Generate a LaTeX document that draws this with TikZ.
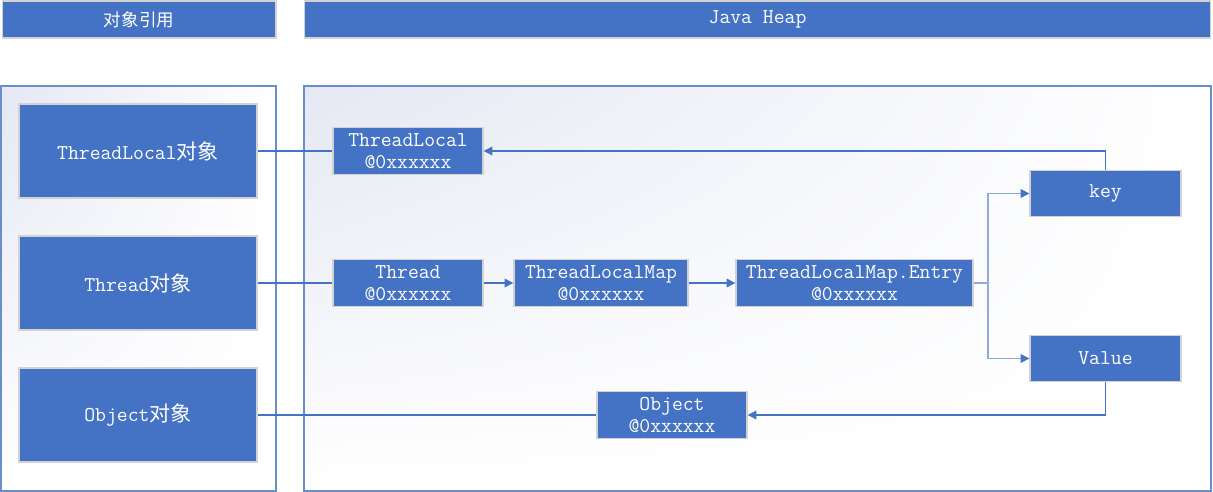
\documentclass[tikz,border=0pt]{standalone}
\usepackage{fontspec}
\newfontfamily\cjk{Noto Sans CJK SC}
\usetikzlibrary{arrows.meta,shadings}

\definecolor{boxblue}{HTML}{4472C4}
\definecolor{forkblue}{HTML}{8FAADC}
\definecolor{panelshade}{HTML}{E5E8F3}

\begin{document}
\begin{tikzpicture}[
    x=0.02cm, y=-0.02cm,
    head/.style={
        fill=boxblue,
        draw=gray!35,
        line width=0.6pt,
        minimum height=0.74cm,
        text=white,
        font=\cjk\fontsize{10}{12}\selectfont
    },
    box/.style={
        fill=boxblue,
        draw=gray!35,
        line width=0.8pt,
        minimum width=3cm,
        minimum height=0.93cm,
        inner sep=1pt,
        align=center,
        text=white,
        font=\ttfamily\fontsize{12}{12.5}\selectfont
    },
    bigbox/.style={
        box,
        minimum width=4.76cm,
        minimum height=1.88cm
    },
    panel/.style={
        draw=boxblue!80,
        line width=0.6pt,
        upper left=panelshade,
        upper right=white,
        lower left=white,
        lower right=white
    },
    link/.style={draw=boxblue, line width=0.6pt},
    arrow/.style={link, -{Triangle[length=5pt,width=5pt]}},
    fork/.style={draw=forkblue, line width=0.9pt,
        -{Triangle[length=5pt,width=5pt,color=boxblue]}}
]
    \useasboundingbox (0,0) rectangle (1213,492);

    % headers
    \node[head, minimum width=5.48cm] (hdrref) at (139,19.5) {对象引用};
    \node[head, minimum width=18.14cm, font=\ttfamily\fontsize{12}{12}\selectfont]
        (hdrheap) at (757.5,19.5) {Java Heap};

    % panels
    \shade[panel] (1,86) rectangle (276,491);
    \shade[panel] (304,86) rectangle (1211,491);

    % references
    \node[bigbox] (tlref) at (138,151) {ThreadLocal{\cjk 对象}};
    \node[bigbox] (thref) at (138,283) {Thread{\cjk 对象}};
    \node[bigbox] (objref) at (138,415) {Object{\cjk 对象}};

    % heap objects
    \node[box] (tl) at (408,151) {ThreadLocal\\@0xxxxxx};
    \node[box] (th) at (408,283) {Thread\\@0xxxxxx};
    \node[box, minimum width=3.48cm] (map) at (601,283) {ThreadLocalMap\\@0xxxxxx};
    \node[box, minimum width=4.74cm] (entry) at (854.5,283) {ThreadLocalMap.Entry\\@0xxxxxx};
    \node[box, minimum width=3.02cm] (key) at (1105.5,193.5) {key};
    \node[box, minimum width=3.02cm] (val) at (1105.5,358.5) {Value};
    \node[box] (obj) at (672,415) {Object\\@0xxxxxx};

    \coordinate (split) at (988,283);

    \draw[link] (tlref) -- (tl);
    \draw[link] (thref) -- (th);
    \draw[link] (objref) -- (obj);

    \draw[arrow] (th) -- (map);
    \draw[arrow] (map) -- (entry);

    \draw[fork] (entry.east) -- (split) |- (key);
    \draw[fork] (split) |- (val);

    \draw[arrow] (key.north) |- (tl.east);
    \draw[arrow] (val.south) |- (obj.east);
\end{tikzpicture}
\end{document}
